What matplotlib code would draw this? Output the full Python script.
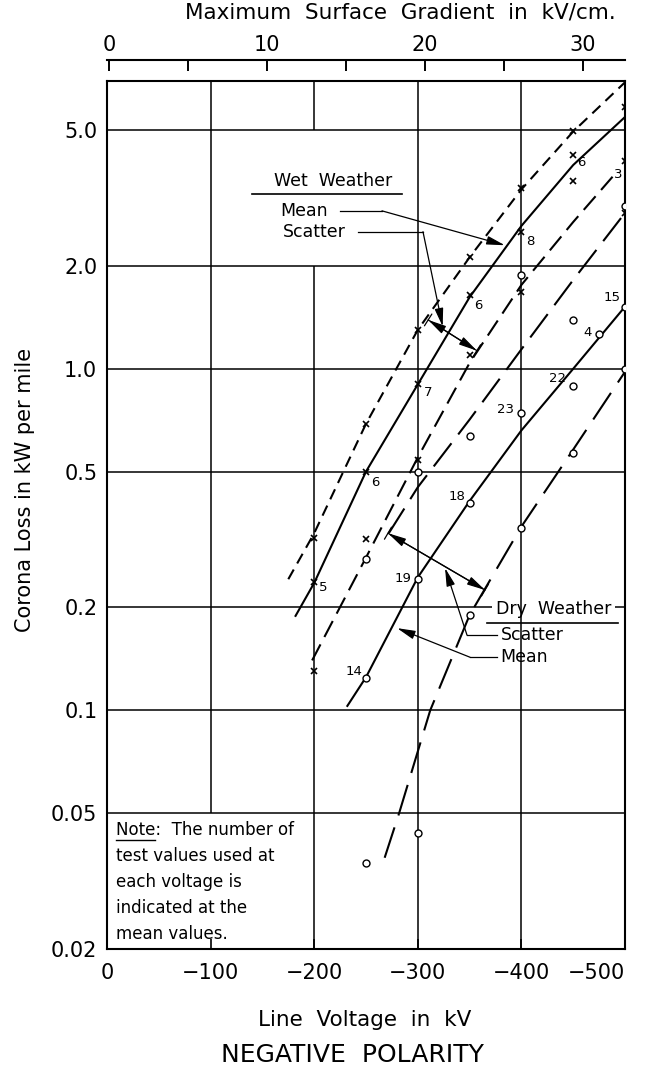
import numpy as np
import matplotlib
matplotlib.use('Agg')
import matplotlib.pyplot as plt
from matplotlib.ticker import NullLocator

plt.rcParams['font.family'] = ['DejaVu Sans']
plt.rcParams['lines.scale_dashes'] = False

# ---------------- data ----------------
# fitted curves
wet_upper_kv = [-175, -200, -250, -300, -350, -400, -450, -500]
wet_upper_loss = [0.242, 0.33, 0.69, 1.30, 2.12, 3.35, 4.95, 6.9]
wet_mean_kv = [-182, -200, -250, -300, -350, -400, -450, -500]
wet_mean_loss = [0.189, 0.236, 0.50, 0.90, 1.62, 2.62, 3.95, 5.46]
wet_lower_kv = [-198, -250, -300, -350, -400, -450, -488]
wet_lower_loss = [0.14, 0.28, 0.55, 1.04, 1.76, 2.69, 3.65]
dry_upper_kv = [-272, -300, -350, -400, -450, -500]
dry_upper_loss = [0.33, 0.45, 0.71, 1.14, 1.82, 2.86]
dry_mean_kv = [-232, -250, -300, -350, -400, -450, -500]
dry_mean_loss = [0.103, 0.125, 0.245, 0.41, 0.66, 1.0, 1.52]
dry_lower_kv = [-268, -282, -312, -350, -400, -450, -500]
dry_lower_loss = [0.037, 0.05, 0.1, 0.19, 0.345, 0.58, 0.98]

# measured points
wet_pt_kv = [-200, -250, -300, -350, -400, -450, -500]
wet_pt_mean = [0.238, 0.50, 0.90, 1.64, 2.52, 4.23, 4.06]
wet_pt_count = ['5', '6', '7', '6', '8', '6', '3']
wet_pt_hi = [0.32, 0.69, 1.30, 2.12, 3.38, 4.97, 5.84]
wet_pt_lo = [0.13, 0.317, 0.54, 1.10, 1.68, 3.55, 2.86]

dry_pt_kv = [-250, -300, -350, -400, -450, -475, -500]
dry_pt_mean = [0.124, 0.242, 0.405, 0.743, 0.89, 1.26, 1.52]
dry_pt_count = ['14', '19', '18', '23', '22', '4', '15']
dry_ext_kv = [-250, -250, -300, -300, -350, -350, -400, -400, -450, -450, -500, -500]
dry_ext_loss = [0.0357, 0.277, 0.0437, 0.50, 0.19, 0.635, 0.342, 1.88, 0.566, 1.39, 1.0, 3.0]

x_ticks = [0, -100, -200, -300, -400, -500]
x_tick_labels = ['0', '\u2212100', '\u2212200', '\u2212300', '\u2212400', '\u2212500']
y_ticks = [0.02, 0.05, 0.1, 0.2, 0.5, 1.0, 2.0, 5.0]
y_tick_labels = ['0.02', '0.05', '0.1', '0.2', '0.5', '1.0', '2.0', '5.0']
grad_ticks = [0, 5, 10, 15, 20, 25, 30]
grad_labels = ['0', '', '10', '', '20', '', '30']

# ---------------- figure ----------------
W, H = 645, 1069
fig = plt.figure(figsize=(W / 100, H / 100), dpi=100)
fig.patch.set_facecolor('white')
ax = fig.add_axes([107 / W, 1 - 949 / H, 518 / W, 868 / H])
ax.set_yscale('log')
ax.set_xlim(0, -500)
YTOP = 6.96
ax.set_ylim(0.02, YTOP)

# grid (partial segments as in the original)
glw = 1.1
for yv in [0.05, 0.1, 0.5, 1.0, 2.0, 5.0]:
    ax.hlines(yv, 0, -500, color='k', lw=glw, zorder=1)
ax.hlines(0.2, 0, -372, color='k', lw=glw, zorder=1)
ax.hlines(0.2, -490, -500, color='k', lw=glw, zorder=1)
ax.vlines(-100, 0.05, YTOP, color='k', lw=glw, zorder=1)
ax.vlines(-200, 0.02, 2.0, color='k', lw=glw, zorder=1)
ax.vlines(-200, 5.0, YTOP, color='k', lw=glw, zorder=1)
ax.vlines(-300, 0.02, YTOP, color='k', lw=glw, zorder=1)
ax.vlines(-400, 0.02, YTOP, color='k', lw=glw, zorder=1)

# curves
lw = 1.5
ax.plot(wet_upper_kv, wet_upper_loss, color='k', lw=lw, dashes=(8, 5), zorder=2)
ax.plot(wet_mean_kv, wet_mean_loss, color='k', lw=lw, zorder=2)
ax.plot(wet_lower_kv, wet_lower_loss, color='k', lw=lw, dashes=(13, 6), zorder=2)
ax.plot(dry_upper_kv, dry_upper_loss, color='k', lw=lw, dashes=(21, 8), zorder=2)
ax.plot(dry_mean_kv, dry_mean_loss, color='k', lw=lw, zorder=2)
ax.plot(dry_lower_kv, dry_lower_loss, color='k', lw=lw, dashes=(23, 9), zorder=2)

# points
for ys in (wet_pt_hi, wet_pt_mean, wet_pt_lo):
    ax.plot(wet_pt_kv, ys, 'x', ms=4.5, mew=1.2, color='k', zorder=4)
ax.plot(dry_pt_kv, dry_pt_mean, 'o', ms=5, mfc='white', mec='k', mew=1.0, zorder=4)
ax.plot(dry_ext_kv, dry_ext_loss, 'o', ms=5, mfc='white', mec='k', mew=1.0, zorder=4)

wet_off = [(9, -6), (9, -11), (10, -8), (9, -10), (9, -10), (8, -8), (-7, -14)]
dry_off = [(-12, 7), (-15, 1), (-13, 6), (-16, 3), (-16, 8), (-12, 2), (-13, 9)]
for kv, v, c, off in zip(wet_pt_kv, wet_pt_mean, wet_pt_count, wet_off):
    ax.annotate(c, (kv, v), xytext=off, textcoords='offset pixels',
                ha='center', va='center', fontsize=9.5, zorder=5)
for kv, v, c, off in zip(dry_pt_kv, dry_pt_mean, dry_pt_count, dry_off):
    ax.annotate(c, (kv, v), xytext=off, textcoords='offset pixels',
                ha='center', va='center', fontsize=9.5, zorder=5)

# --------- legend-like annotations ---------
alw = 0.9
head = dict(arrowstyle='-|>,head_length=0.55,head_width=0.13', color='k', lw=alw,
            shrinkA=0, shrinkB=0, mutation_scale=20)
dbl = dict(arrowstyle='<|-|>,head_length=0.55,head_width=0.13', color='k',
           lw=alw, shrinkA=0, shrinkB=0, mutation_scale=20)
bar = dict(arrowstyle='|-|,widthA=0.25,widthB=0.25', color='k',
           lw=alw, shrinkA=0, shrinkB=0, mutation_scale=20)
# Wet weather
ax.text(-218, 3.55, 'Wet  Weather', ha='center', va='center', fontsize=12.5)
ax.plot([-140, -285], [3.25, 3.25], color='k', lw=1.2)
ax.text(-167, 2.90, 'Mean', ha='left', va='center', fontsize=12.5)
ax.text(-170, 2.52, 'Scatter', ha='left', va='center', fontsize=12.5)
ax.plot([-225, -265.4], [2.90, 2.90], color='k', lw=alw)
ax.annotate('', xy=(-384, 2.30), xytext=(-265.4, 2.90), arrowprops=head)
ax.plot([-242, -305], [2.52, 2.52], color='k', lw=alw)
ax.annotate('', xy=(-324, 1.33), xytext=(-305, 2.52), arrowprops=head)
ax.annotate('', xy=(-310, 1.39), xytext=(-357, 1.13), arrowprops=dbl)
ax.annotate('', xy=(-310, 1.39), xytext=(-357, 1.13), arrowprops=bar)

# Dry weather
ax.text(-431.5, 0.198, 'Dry  Weather', ha='center', va='center', fontsize=12.5)
ax.plot([-367, -493], [0.18, 0.18], color='k', lw=1.2)
ax.text(-380, 0.166, 'Scatter', ha='left', va='center', fontsize=12.5)
ax.text(-380, 0.143, 'Mean', ha='left', va='center', fontsize=12.5)
ax.plot([-376, -347.5], [0.166, 0.166], color='k', lw=alw)
ax.annotate('', xy=(-326.3, 0.261), xytext=(-347.5, 0.166), arrowprops=head)
ax.plot([-376, -350.4], [0.143, 0.143], color='k', lw=alw)
ax.annotate('', xy=(-280, 0.174), xytext=(-350.4, 0.143), arrowprops=head)
ax.annotate('', xy=(-271.2, 0.330), xytext=(-364.9, 0.225), arrowprops=dbl)
ax.annotate('', xy=(-271.2, 0.330), xytext=(-364.9, 0.225), arrowprops=bar)

# Note
note_fs = 12
note_x, note_y = 9 / 518, (949 - 821) / 868
ax.text(note_x, note_y, 'Note:  The number of\ntest values used at\neach voltage is\nindicated at the\nmean values.',
        transform=ax.transAxes, ha='left', va='top', fontsize=note_fs, linespacing=1.58)
r = fig.canvas.get_renderer()
tmp = ax.text(note_x, note_y, 'Note', transform=ax.transAxes, ha='left', va='top', fontsize=note_fs)
bb = tmp.get_window_extent(renderer=r)
tmp.remove()
inv = ax.transAxes.inverted()
(x0, y0), (x1, y1) = inv.transform([[bb.x0, bb.y0], [bb.x1, bb.y1]])
ax.plot([x0, x1], [y0 - 0.001, y0 - 0.001], transform=ax.transAxes, color='k', lw=1.0)

# axes styling
for s in ax.spines.values():
    s.set_linewidth(1.5)
ax.set_xticks(x_ticks)
ax.set_xticklabels(x_tick_labels)
ax.xaxis.set_minor_locator(NullLocator())
ax.tick_params(axis='x', direction='in', length=7, width=1.2, pad=10, labelsize=15)
ax.get_xticklabels()[-1].set_horizontalalignment('right')
ax.set_yticks(y_ticks)
ax.set_yticklabels(y_tick_labels)
ax.yaxis.set_minor_locator(NullLocator())
ax.tick_params(axis='y', length=0, pad=7, labelsize=15)

ax2 = ax.twiny()
ax2.set_xlim(-0.13, 32.66)
ax2.spines['top'].set_position(('outward', 15))
ax2.spines['top'].set_linewidth(1.5)
for k in ('bottom', 'left', 'right'):
    ax2.spines[k].set_visible(False)
ax2.set_xticks(grad_ticks)
ax2.set_xticklabels(grad_labels)
ax2.xaxis.set_minor_locator(NullLocator())
ax2.tick_params(axis='x', direction='in', length=8, width=1.4, pad=4, labelsize=15)

fig.text(400 / W, 1 - 13 / H, 'Maximum  Surface  Gradient  in  kV/cm.', ha='center', va='center', fontsize=15.5)
fig.text(25 / W, 1 - 490 / H, 'Corona Loss in kW per mile', rotation=90, ha='center', va='center', fontsize=15)
fig.text(365 / W, 1 - 1020 / H, 'Line  Voltage  in  kV', ha='center', va='center', fontsize=15.5)
fig.text(352 / W, 1 - 1055 / H, 'NEGATIVE  POLARITY', ha='center', va='center', fontsize=18)

fig.savefig('out.png', dpi=100, facecolor='white')
